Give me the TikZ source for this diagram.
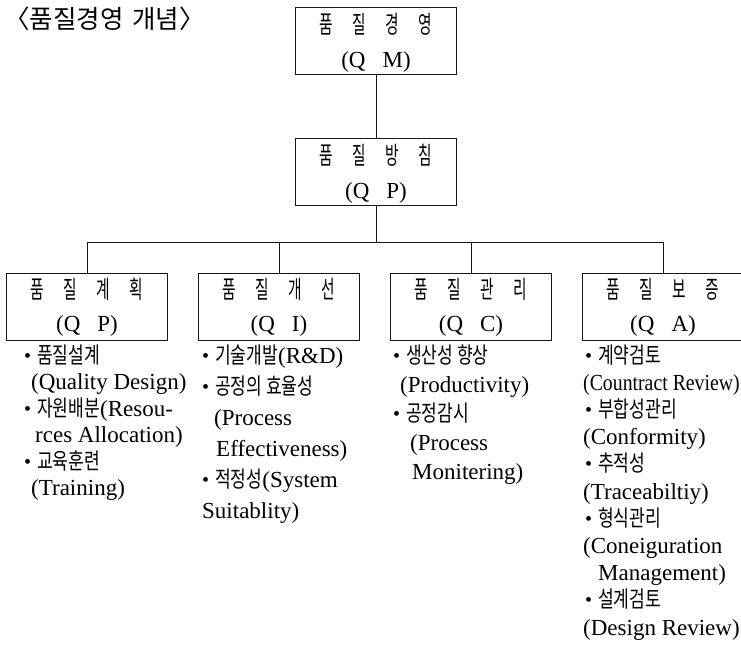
\documentclass[tikz,border=0pt]{standalone}
\usepackage{fontspec}
\usepackage{graphicx}
\setmainfont{Liberation Serif}
\newfontfamily\krfont[FakeStretch=0.76]{Noto Sans CJK KR}
\newfontfamily\ktfont[FakeStretch=0.6]{Noto Sans CJK KR}
\newfontfamily\khfont{Noto Sans CJK KR}
\newcommand{\K}[1]{{\krfont\fontsize{22.5}{22.5}\selectfont #1}}
\newcommand{\blt}{\makebox[13pt][l]{\raisebox{1pt}{\fontsize{20}{20}\selectfont\textbullet}}}
\newcommand{\tsp}{\hspace{19.5pt}}
\newcommand{\TT}[4]{{\ktfont\fontsize{24.5}{24.5}\selectfont #1\tsp#2\tsp#3\tsp#4}}
\begin{document}
\begin{tikzpicture}[x=1pt,y=-1pt,
  box/.style={draw=black!90,line width=1pt,minimum width=161pt,minimum height=67pt,inner sep=0pt},
  conn/.style={draw=black!90,line width=0.9pt},
  ttl/.style={anchor=base,inner sep=0pt},
  itm/.style={anchor=base west,inner sep=0pt,font=\fontsize{23}{23}\selectfont}]
\useasboundingbox (0,0) rectangle (741,665);
% title
\node[anchor=base west,inner sep=0pt] (title) at (4,28) {\khfont\fontsize{25.5}{25.5}\selectfont 〈품질경영\hspace{9pt}개념〉};
% top boxes
\node[box] (qm) at (376,40.5) {};
\node[ttl] (qmt) at (376,33) {\TT{품}{질}{경}{영}};
\node[ttl] (qmq) at (376,67) {\fontsize{23}{23}\selectfont (Q\hspace{17pt}M)};
\node[box] (qp) at (376,171.5) {};
\node[ttl] (qpt) at (376,164) {\TT{품}{질}{방}{침}};
\node[ttl] (qpq) at (376,198) {\fontsize{23}{23}\selectfont (Q\hspace{17pt}P)};
% second level boxes
\node[box] (b1) at (87,306.5) {};
\node[box] (b2) at (279,306.5) {};
\node[box] (b3) at (471,306.5) {};
\node[box] (b4) at (663,306.5) {};
\node[ttl] (b1t) at (87,298) {\TT{품}{질}{계}{획}};
\node[ttl] (b2t) at (279,298) {\TT{품}{질}{개}{선}};
\node[ttl] (b3t) at (471,298) {\TT{품}{질}{관}{리}};
\node[ttl] (b4t) at (663,298) {\TT{품}{질}{보}{증}};
\node[ttl] (b1q) at (87,331) {\fontsize{23}{23}\selectfont (Q\hspace{17pt}P)};
\node[ttl] (b2q) at (279,331) {\fontsize{23}{23}\selectfont (Q\hspace{17pt}I)};
\node[ttl] (b3q) at (471,331) {\fontsize{23}{23}\selectfont (Q\hspace{17pt}C)};
\node[ttl] (b4q) at (663,331) {\fontsize{23}{23}\selectfont (Q\hspace{17pt}A)};
% connectors
\coordinate (bar) at (376,242);
\draw[conn] (qm.south) -- (qp.north);
\draw[conn] (qp.south) -- (bar);
\draw[conn] (b1.north) |- (bar);
\draw[conn] (b4.north) |- (bar);
\draw[conn] (b2.north) -- (b2.north |- bar);
\draw[conn] (b3.north) -- (b3.north |- bar);
% column 1
\node[itm] (l1a) at (24,363) {\blt\K{품질설계}};
\node[itm] (l1b) at (31,389.5) {(Quality Design)};
\node[itm] (l1c) at (24,416) {\blt\K{자원배분}(Resou-};
\node[itm] (l1d) at (35,442.5) {rces Allocation)};
\node[itm] (l1e) at (24,469) {\blt\K{교육훈련}};
\node[itm] (l1f) at (31,495.5) {(Training)};
% column 2
\node[itm] (l2a) at (202,363) {\blt\K{기술개발}(R\&D)};
\node[itm] (l2b) at (202,394) {\blt\K{공정의 효율성}};
\node[itm] (l2c) at (214,425) {(Process};
\node[itm] (l2d) at (216,456) {Effectiveness)};
\node[itm] (l2e) at (202,487) {\blt\K{적정성}(System};
\node[itm] (l2f) at (202,518) {Suitablity)};
% column 3
\node[itm] (l3a) at (393,363) {\blt\K{생산성 향상}};
\node[itm] (l3b) at (400,392) {(Productivity)};
\node[itm] (l3c) at (393,421) {\blt\K{공정감시}};
\node[itm] (l3d) at (410,450) {(Process};
\node[itm] (l3e) at (412,479) {Monitering)};
% column 4
\node[itm] (l4a) at (585,363) {\blt\K{계약검토}};
\node[itm] (l4b) at (583,390.2) {\scalebox{0.86}[1]{(Countract Review)}};
\node[itm] (l4c) at (585,417.4) {\blt\K{부합성관리}};
\node[itm] (l4d) at (583,444.6) {(Conformity)};
\node[itm] (l4e) at (585,471.8) {\blt\K{추적성}};
\node[itm] (l4f) at (583,499) {(Traceabiltiy)};
\node[itm] (l4g) at (585,526.2) {\blt\K{형식관리}};
\node[itm] (l4h) at (583,553.4) {(Coneiguration};
\node[itm] (l4i) at (598,580.6) {Management)};
\node[itm] (l4j) at (585,607.8) {\blt\K{설계검토}};
\node[itm] (l4k) at (583,635) {(Design Review)};
\end{tikzpicture}
\end{document}
